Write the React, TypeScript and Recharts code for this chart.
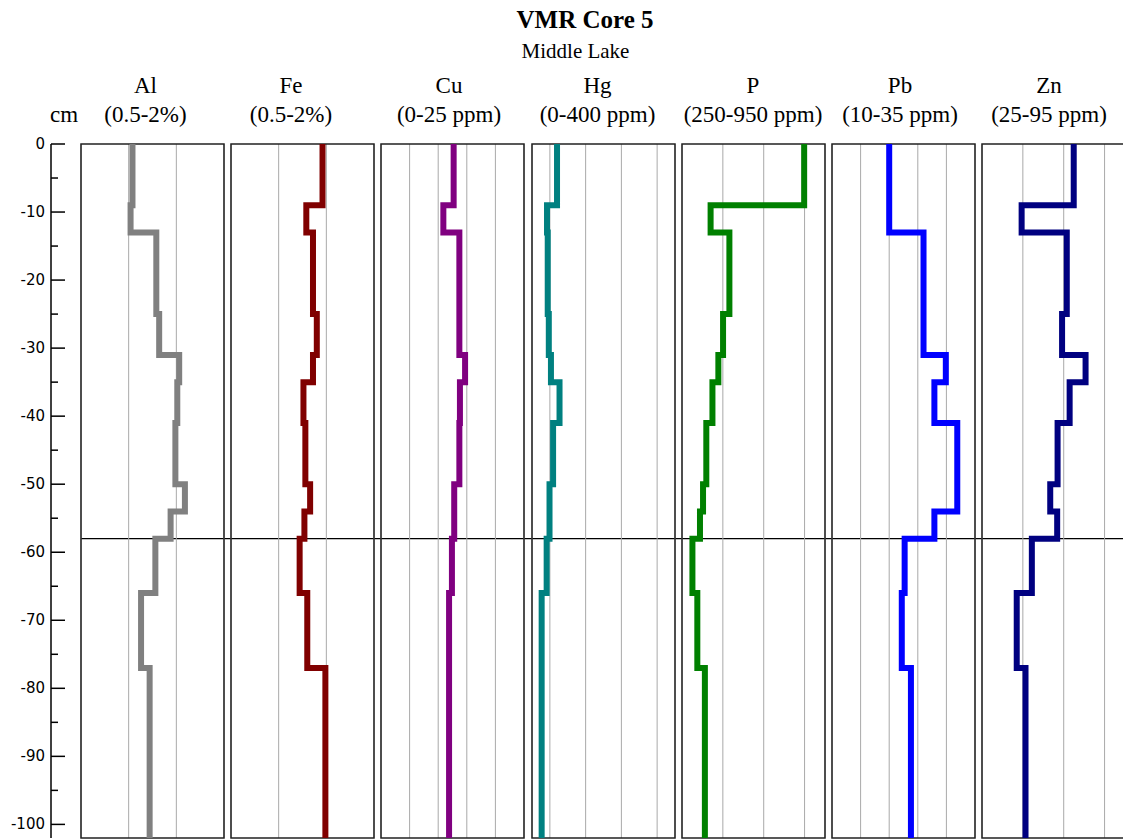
import React from 'react';
import { LineChart, Line, XAxis, YAxis, CartesianGrid, ReferenceArea, ReferenceLine } from 'recharts';

// sample layer tops (cm below surface); each layer keeps one value down to the next top
const layerTops = [0, 9, 13, 25, 31, 35, 41, 50, 54, 58, 66, 77];
const coreBottom = 102;
const markerDepth = -58;
const depthTicks = [0, -5, -10, -15, -20, -25, -30, -35, -40, -45, -50, -55, -60, -65, -70, -75, -80, -85, -90, -95, -100];

const elements = ['Al', 'Fe', 'Cu', 'Hg', 'P', 'Pb', 'Zn'];
const ranges = ['(0.5-2%)', '(0.5-2%)', '(0-25 ppm)', '(0-400 ppm)', '(250-950 ppm)', '(10-35 ppm)', '(25-95 ppm)'];
const domains: [number, number][] = [[0.5, 2], [0.5, 2], [0, 25], [0, 400], [250, 950], [10, 35], [25, 95]];
const gridTicks = [
  [1, 1.5],
  [1, 1.5],
  [5, 10, 15, 20],
  [50, 100, 150, 200, 250, 300, 350],
  [350, 450, 550, 650, 750, 850],
  [15, 20, 25, 30],
  [35, 45, 55, 65, 75, 85],
];

const al = [1.04, 1.02, 1.29, 1.32, 1.53, 1.51, 1.49, 1.59, 1.44, 1.28, 1.13, 1.22];
const fe = [1.46, 1.29, 1.36, 1.4, 1.36, 1.26, 1.28, 1.33, 1.27, 1.22, 1.3, 1.49];
const cu = [12.7, 10.9, 13.7, 13.7, 14.7, 13.8, 13.7, 12.8, 12.8, 12.4, 11.9, 11.9];
const hg = [70, 42, 44, 47, 53, 77, 59, 49, 49, 41, 27, 27];
const p = [848, 390, 482, 451, 428, 399, 369, 353, 338, 301, 325, 362];
const pb = [20, 20, 26, 26, 29.9, 27.9, 31.9, 31.9, 27.9, 22.7, 22.2, 23.8];
const zn = [69.9, 44.4, 66.5, 64.2, 75.7, 67.9, 62, 58.4, 61.8, 49.4, 42, 46.3];

const series = [al, fe, cu, hg, p, pb, zn];
const colors = ['#808080', '#800000', '#800080', '#008080', '#008000', '#0000ff', '#000080'];

// layout
const H = 839;
const TOP = 144;
const PANEL_X0 = 81;
const PANEL_STEP = 150.17;
const PANEL_W = 143;
const PAD = 3;
const labelCenters = [145.5, 291, 449, 597.5, 753, 900, 1049];

const serif = '"Liberation Serif", "Times New Roman", serif';

function toSteps(values: number[]) {
  const pts: { v: number; depth: number }[] = [];
  values.forEach((v, i) => {
    const top = layerTops[i];
    const bottom = i + 1 < layerTops.length ? layerTops[i + 1] : coreBottom;
    pts.push({ v, depth: -top }, { v, depth: -bottom });
  });
  return pts;
}

const DepthTick = (props: any) => {
  const { x, y, payload } = props;
  const major = payload.value % 10 === 0;
  const ax = x + 6;
  return (
    <g>
      <line x1={ax} x2={ax + (major ? 14 : 7)} y1={y} y2={y} stroke="#000" strokeWidth={1.5} />
      {major && (
        <text x={x} y={y} textAnchor="end" dominantBaseline="central" fontFamily='"DejaVu Sans", sans-serif' fontSize={15} fill="#000">
          {payload.value}
        </text>
      )}
    </g>
  );
};

function Header({ cx, cy, text, size, bold }: { cx: number; cy: number; text: string; size: number; bold?: boolean }) {
  return (
    <div
      style={{
        position: 'absolute',
        left: cx - 150,
        top: cy - 15,
        width: 300,
        height: 30,
        lineHeight: '30px',
        textAlign: 'center',
        fontFamily: serif,
        fontSize: size,
        fontWeight: bold ? 'bold' : 'normal',
        color: '#000',
        whiteSpace: 'nowrap',
      }}
    >
      {text}
    </div>
  );
}

export default function App() {
  const base = toSteps(al);
  return (
    <div style={{ position: 'absolute', left: 0, top: 0, width: 1123, height: H, overflow: 'hidden', background: '#fff' }}>
      <Header cx={585} cy={20} text="VMR Core 5" size={25} bold />
      <Header cx={575.5} cy={51} text="Middle Lake" size={21} />
      <Header cx={64} cy={115} text="cm" size={23} />
      {elements.map((el, i) => (
        <React.Fragment key={el}>
          <Header cx={labelCenters[i]} cy={86} text={el} size={23} />
          <Header cx={labelCenters[i]} cy={115} text={ranges[i]} size={23} />
        </React.Fragment>
      ))}

      {/* marker line running across all panels */}
      <div style={{ position: 'absolute', left: PANEL_X0, top: 0 }}>
        <LineChart width={1123 - PANEL_X0} height={H} data={base} margin={{ top: TOP, bottom: 1, left: 0, right: 0 }}>
          <XAxis type="number" dataKey="v" domain={[0, 3]} hide />
          <YAxis type="number" domain={[-coreBottom, 0]} hide />
          <Line dataKey="depth" stroke="none" dot={false} activeDot={false} isAnimationActive={false} />
          <ReferenceLine y={markerDepth} stroke="#000" strokeWidth={1.2} />
        </LineChart>
      </div>

      {/* depth axis */}
      <div style={{ position: 'absolute', left: 0, top: 0 }}>
        <LineChart width={70} height={H} data={base} margin={{ top: TOP, bottom: 1, left: 0, right: 0 }}>
          <XAxis type="number" dataKey="v" domain={[0, 3]} hide />
          <YAxis
            type="number"
            domain={[-coreBottom, 0]}
            ticks={depthTicks}
            interval={0}
            width={51}
            tickSize={0}
            tickMargin={6}
            tickLine={false}
            axisLine={{ stroke: '#000', strokeWidth: 1.5 }}
            tick={<DepthTick />}
          />
          <Line dataKey="depth" stroke="none" dot={false} activeDot={false} isAnimationActive={false} />
        </LineChart>
      </div>

      {series.map((values, i) => (
        <div key={elements[i]} style={{ position: 'absolute', left: PANEL_X0 + i * PANEL_STEP - PAD, top: 0 }}>
          <LineChart width={PANEL_W + 2 * PAD} height={H} data={toSteps(values)} margin={{ top: TOP, bottom: 1, left: PAD, right: PAD }}>
            <CartesianGrid horizontal={false} stroke="#a9a9a9" />
            <XAxis type="number" dataKey="v" domain={domains[i]} ticks={gridTicks[i]} hide />
            <YAxis type="number" domain={[-coreBottom, 0]} hide />
            <Line
              dataKey="depth"
              stroke={colors[i]}
              strokeWidth={6}
              strokeLinejoin="miter"
              dot={false}
              activeDot={false}
              isAnimationActive={false}
            />
            <ReferenceArea
              x1={domains[i][0]}
              x2={domains[i][1]}
              y1={-coreBottom}
              y2={0}
              fill="none"
              fillOpacity={0}
              stroke="#222"
              strokeWidth={1.5}
            />
          </LineChart>
        </div>
      ))}
    </div>
  );
}
